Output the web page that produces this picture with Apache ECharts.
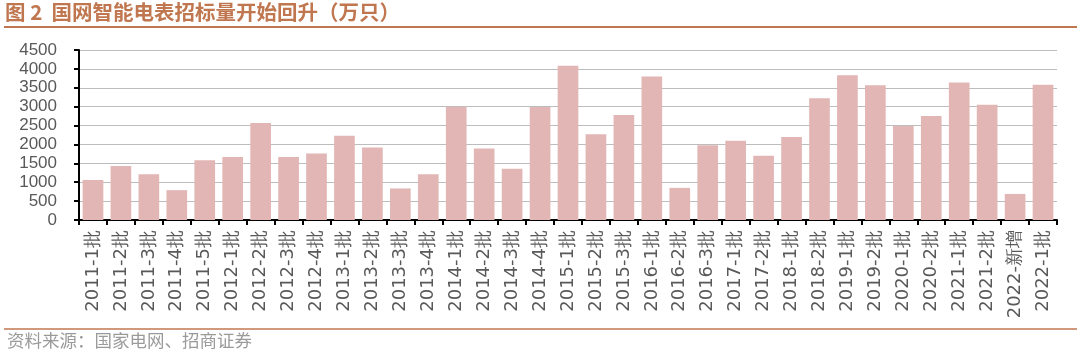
<!DOCTYPE html>
<html>
<head>
<meta charset="utf-8">
<script src="https://cdn.jsdelivr.net/npm/echarts@6/dist/echarts.min.js"></script>
<style>
    html, body { margin: 0; padding: 0; background: #fff; }
    #grafico { width: 1080px; height: 354px; }
</style>
</head>
<body>
<div id="grafico"></div>
<script>
// dados do grafico
const categorias = [
    "2011-1批", "2011-2批", "2011-3批", "2011-4批", "2011-5批",
    "2012-1批", "2012-2批", "2012-3批", "2012-4批",
    "2013-1批", "2013-2批", "2013-3批", "2013-4批",
    "2014-1批", "2014-2批", "2014-3批", "2014-4批",
    "2015-1批", "2015-2批", "2015-3批",
    "2016-1批", "2016-2批", "2016-3批",
    "2017-1批", "2017-2批",
    "2018-1批", "2018-2批",
    "2019-1批", "2019-2批",
    "2020-1批", "2020-2批",
    "2021-1批", "2021-2批",
    "2022-新增", "2022-1批"
];
const quantidades = [
    1060, 1430, 1210, 790, 1580,
    1670, 2570, 1670, 1760,
    2230, 1920, 835, 1210,
    3000, 1890, 1355, 2990,
    4080, 2270, 2780,
    3800, 850, 1980,
    2100, 1700,
    2200, 3220,
    3830, 3570,
    2490, 2750,
    3640, 3050,
    690, 3580
];
const titulo = "图 2  国网智能电表招标量开始回升（万只）";
const fonte = "资料来源：国家电网、招商证券";

const corMarrom = "#C0774F";

let grafico = document.getElementById("grafico");
let myChart = echarts.init(grafico, null, { renderer: "canvas" });

let option = {
    animation: false,
    grid: { left: 79, right: 23, top: 50, bottom: 134, containLabel: false },
    xAxis: {
        type: "category",
        data: categorias,
        axisLine: { lineStyle: { color: "#000", width: 2 } },
        axisTick: { show: true, length: 5, lineStyle: { color: "#000", width: 2 } },
        axisLabel: {
            rotate: 90,
            interval: 0,
            margin: 10,
            color: "#595959",
            fontSize: 18,
            fontFamily: "DejaVu Sans"
        }
    },
    yAxis: {
        type: "value",
        min: 0,
        max: 4500,
        interval: 500,
        axisLine: { show: true, lineStyle: { color: "#000", width: 2 } },
        axisTick: { show: true, length: 5, lineStyle: { color: "#000", width: 2 } },
        axisLabel: {
            color: "#595959",
            fontSize: 17,
            margin: 22,
            fontFamily: "Liberation Sans",
            formatter: v => String(v)
        },
        splitLine: { lineStyle: { color: "#BDBDBD", width: 1 } }
    },
    series: [
        {
            name: "招标量",
            type: "bar",
            data: quantidades,
            barCategoryGap: "26%",
            itemStyle: { color: "#E3B6B6" }
        }
    ],
    graphic: [
        {
            type: "text",
            left: 5, top: 2,
            style: {
                text: titulo,
                fill: corMarrom,
                font: "bold 20.5px 'Noto Sans CJK SC'"
            }
        },
        {
            type: "line",
            shape: { x1: 4, y1: 27, x2: 1077, y2: 27 },
            style: { stroke: corMarrom, lineWidth: 2 }
        },
        {
            type: "line",
            shape: { x1: 4, y1: 329, x2: 1077, y2: 329 },
            style: { stroke: corMarrom, lineWidth: 1.5 }
        },
        {
            type: "text",
            left: 7, top: 332,
            style: {
                text: fonte,
                fill: "#9A9A9A",
                font: "17.5px 'Noto Sans CJK SC'"
            }
        }
    ]
};

myChart.setOption(option);
</script>
</body>
</html>
